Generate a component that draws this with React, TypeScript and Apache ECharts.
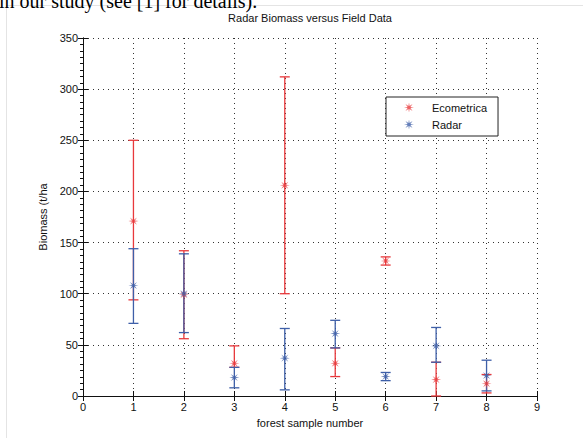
import React, { useEffect, useRef } from "react";
import * as echarts from "echarts";

const samples = [1, 2, 3, 4, 5, 6, 7, 8];
const ecoValue = [171, 99, 32, 206, 32, 132, 16, 12];
const ecoLow = [94, 56, 28, 100, 19, 128, 0, 3];
const ecoHigh = [250, 142, 49, 312, 47, 136, 33, 21];
const radarValue = [108, 100, 18, 37, 61, 19, 49, 20];
const radarLow = [71, 62, 8, 6, 47, 15, 33, 5];
const radarHigh = [144, 139, 28, 66, 74, 23, 67, 35];
const xTicks = [0, 1, 2, 3, 4, 5, 6, 7, 8, 9];
const yTicks = [0, 50, 100, 150, 200, 250, 300, 350];

const RED = "#e8393c";
const BLUE = "#3e5fa8";
const FONT = "Liberation Sans, Arial, sans-serif";
const STAR =
  "path://M20 10L12.77 11.15L17.07 17.07L11.15 12.77L10 20L8.85 12.77L2.93 17.07L7.23 11.15L0 10L7.23 8.85L2.93 2.93L8.85 7.23L10 0L11.15 7.23L17.07 2.93L12.77 8.85Z";
const LEGEND_STAR =
  "path://M46 10L38.77 11.15L43.07 17.07L37.15 12.77L36 20L34.85 12.77L28.93 17.07L33.23 11.15L26 10L33.23 8.85L28.93 2.93L34.85 7.23L36 0L37.15 7.23L43.07 2.93L38.77 8.85ZM0 10L0 10.01ZM72 10L72 10.01Z";

function errorSeries(name: string, color: string, low: number[], high: number[]) {
  return {
    name: name + " error",
    type: "custom",
    silent: true,
    z: 3,
    data: samples.map((x, i) => [x, low[i], high[i]]),
    renderItem: (params: any, api: any) => {
      const x = api.value(0);
      const lo = api.coord([x, api.value(1)]);
      const hi = api.coord([x, api.value(2)]);
      const hw = 5;
      const style = { stroke: color, lineWidth: 1.3 };
      return {
        type: "group",
        children: [
          { type: "line", shape: { x1: lo[0], y1: lo[1], x2: hi[0], y2: hi[1] }, style },
          { type: "line", shape: { x1: lo[0] - hw, y1: lo[1], x2: lo[0] + hw, y2: lo[1] }, style },
          { type: "line", shape: { x1: hi[0] - hw, y1: hi[1], x2: hi[0] + hw, y2: hi[1] }, style },
        ],
      };
    },
  };
}

export default function App() {
  const ref = useRef<HTMLDivElement>(null);
  useEffect(() => {
    if (!ref.current) return;
    const chart = echarts.init(ref.current, null, { renderer: "svg" });
    const option: any = {
      animation: false,
      backgroundColor: "#fff",
      title: {
        text: "Radar Biomass versus Field Data",
        left: 310,
        top: 12,
        textAlign: "center",
        padding: 0,
        textStyle: { fontFamily: FONT, fontSize: 11, fontWeight: "normal", color: "#111" },
      },
      graphic: [
        {
          type: "text",
          left: -1,
          top: -9,
          style: {
            text: "in our study (see [1] for details).",
            font: "20px 'Liberation Serif', 'Times New Roman', serif",
            fill: "#000",
          },
          z: 10,
        },
        {
          type: "polyline",
          shape: { points: [[6.5, 600], [6.5, 5.5], [700, 5.5]] },
          style: { stroke: "#e4e4e4", lineWidth: 1, fill: "none" },
        },
      ],
      legend: {
        orient: "vertical",
        left: 386,
        top: 97,
        padding: [5, 11, 6, 5],
        itemGap: 6,
        itemWidth: 36,
        itemHeight: 10,
        borderColor: "#222",
        borderWidth: 1,
        backgroundColor: "#fff",
        textStyle: { fontFamily: FONT, fontSize: 11, color: "#111" },
        data: [
          { name: "Ecometrica", icon: LEGEND_STAR },
          { name: "Radar", icon: LEGEND_STAR },
        ],
      },
      grid: { left: 83, right: 46, top: 38, bottom: 42 },
      xAxis: [
        {
          type: "value",
          min: 0,
          max: 9,
          interval: 1,
          name: "forest sample number",
          nameLocation: "middle",
          nameGap: 21,
          nameTextStyle: { fontFamily: FONT, fontSize: 11, color: "#111" },
          axisLine: { lineStyle: { color: "#111", width: 1 } },
          axisTick: { inside: true, length: 5, lineStyle: { color: "#111" } },
          axisLabel: {
            margin: 5,
            fontFamily: FONT,
            fontSize: 11,
            color: "#111",
            formatter: (v: number) => (xTicks.includes(v) ? String(v) : ""),
          },
          splitLine: { show: true, lineStyle: { color: "#333", type: [1, 4], width: 1 } },
        },
        {
          type: "value",
          position: "top",
          min: 0,
          max: 9,
          interval: 1,
          axisLine: { lineStyle: { color: "#111", width: 1 } },
          axisTick: { inside: true, length: 5, lineStyle: { color: "#111" } },
          axisLabel: { show: false },
          splitLine: { show: false },
        },
      ],
      yAxis: [
        {
          type: "value",
          min: 0,
          max: 350,
          interval: 50,
          name: "Biomass (t/ha",
          nameLocation: "middle",
          nameGap: 34,
          nameTextStyle: { fontFamily: FONT, fontSize: 11, color: "#111" },
          axisLine: { show: true, lineStyle: { color: "#111", width: 1 } },
          axisTick: { show: true, inside: true, length: 5, lineStyle: { color: "#111" } },
          axisLabel: {
            margin: 5,
            fontFamily: FONT,
            fontSize: 11,
            color: "#111",
            formatter: (v: number) => (yTicks.includes(v) ? String(v) : ""),
          },
          splitLine: { show: true, lineStyle: { color: "#333", type: [1, 4], width: 1 } },
        },
        {
          type: "value",
          position: "right",
          min: 0,
          max: 350,
          interval: 50,
          axisLine: { show: true, lineStyle: { color: "#111", width: 1 } },
          axisTick: { show: true, inside: true, length: 5, lineStyle: { color: "#111" } },
          minorTick: { show: true, splitNumber: 8, length: 3, lineStyle: { color: "#111" } },
          axisLabel: { show: false },
          splitLine: { show: false },
        },
      ],
      series: [
        errorSeries("Ecometrica", RED, ecoLow, ecoHigh),
        errorSeries("Radar", BLUE, radarLow, radarHigh),
        {
          name: "Ecometrica",
          type: "scatter",
          symbol: STAR,
          symbolSize: 10,
          z: 4,
          itemStyle: { color: RED },
          data: samples.map((x, i) => [x, ecoValue[i]]),
        },
        {
          name: "Radar",
          type: "scatter",
          symbol: STAR,
          symbolSize: 10,
          z: 5,
          itemStyle: { color: BLUE },
          data: samples.map((x, i) => [x, radarValue[i]]),
        },
      ],
    };
    chart.setOption(option);
    return () => chart.dispose();
  }, []);
  return <div ref={ref} style={{ width: 583, height: 438, position: "absolute", left: 0, top: 0 }} />;
}
